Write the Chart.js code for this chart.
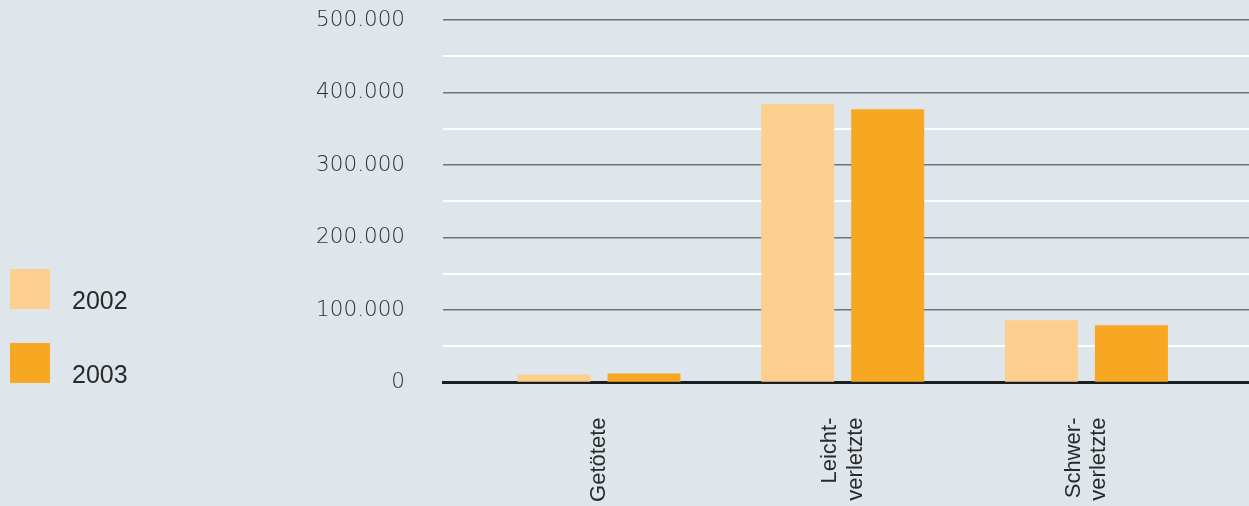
<!DOCTYPE html>
<html lang="de">
<head>
<meta charset="utf-8">
<script src="https://cdn.jsdelivr.net/npm/chart.js@4"></script>
<style>
  html, body { margin: 0; padding: 0; background: #dee6eb; }
  #wrap { position: relative; width: 1249px; height: 506px; }
  #chart { position: absolute; left: 0; top: 0; }
  .legend { position: absolute; left: 10px; font-family: "Liberation Sans", Arial, sans-serif; font-size: 25px; color: #2a2a2a; }
  .legend span.box { position: absolute; left: 0; top: 0; width: 40px; height: 40px; }
  .legend span.txt { position: absolute; left: 62px; top: 17px; white-space: nowrap; }
</style>
</head>
<body>
<div id="wrap">
  <canvas id="chart" width="1249" height="506"></canvas>
</div>
<script>
// Kategorien (mehrzeilig wie im Original)
const categories = [['Getötete'], ['Leicht-', 'verletzte'], ['Schwer-', 'verletzte']];
const years = ['2002', '2003'];
const values2002 = [11000, 384000, 86000];
const values2003 = [12500, 377000, 79000];
const colors = ['#fccf8f', '#f8a722'];

function fmt(v) {
  return String(v).replace(/\B(?=(\d{3})+(?!\d))/g, '.');
}

document.addEventListener('DOMContentLoaded', function () {
    // legend
    const wrap = document.getElementById('wrap');
    years.forEach((y, i) => {
        const el = document.createElement('div');
        el.className = 'legend';
        el.style.top = (269 + i * 74) + 'px';
        el.innerHTML = '<span class="box" style="background:' + colors[i] + '"></span><span class="txt">' + y + '</span>';
        wrap.appendChild(el);
    });

    const series = [values2002, values2003];
    const ctx = document.getElementById('chart').getContext('2d');
    new Chart(ctx, {
        type: 'bar',
        data: {
            datasets: series.map((vals, i) => ({
                label: years[i],
                data: vals.map((v, j) => ({ x: j + 1, y: v })),
                backgroundColor: colors[i],
                borderWidth: 0,
                categoryPercentage: 0.778,
                barPercentage: 0.811
            }))
        },
        options: {
            responsive: false,
            animation: false,
            layout: { padding: { left: 300, top: 20, right: 0, bottom: 0 } },
            plugins: {
                legend: { display: false },
                tooltip: { enabled: false }
            },
            scales: {
                x: {
                    type: 'linear',
                    offset: false,
                    min: 0.36,
                    max: 3.667,
                    grid: { display: false },
                    border: { color: '#1e1e1e', width: 3 },
                    // two-line labels get nudged left by half a line so the block is centred
                    afterBuildTicks: axis => {
                        axis.ticks = categories.map((c, i) => ({ value: i + 1 - (c.length - 1) * 0.051 }));
                    },
                    afterFit: axis => {
                        axis.height = 123.5;
                        axis.paddingLeft = 0;
                        axis.paddingRight = 0;
                    },
                    ticks: {
                        autoSkip: false,
                        maxRotation: 90,
                        minRotation: 90,
                        padding: 27,
                        color: '#2a2a2a',
                        font: { family: '"Liberation Sans", Arial, sans-serif', size: 22, lineHeight: 1.15 },
                        callback: (v, i) => categories[i]
                    }
                },
                y: {
                    min: 0,
                    max: 500000,
                    afterFit: axis => {
                        axis.width = 143;
                        axis.paddingTop = 0;
                        axis.paddingBottom = 0;
                    },
                    border: { display: false },
                    grid: {
                        drawTicks: false,
                        color: c => c.tick.value % 100000 === 0 ? '#727272' : '#ffffff',
                        lineWidth: c => c.tick.value % 100000 === 0 ? 1.5 : 2
                    },
                    ticks: {
                        stepSize: 50000,
                        padding: 38,
                        color: '#2e2e2e',
                        font: { family: '"DejaVu Sans", sans-serif', size: 21.5, weight: 300 },
                        callback: v => v % 100000 === 0 ? fmt(v) : ''
                    }
                }
            }
        }
    });
});
</script>
</body>
</html>
